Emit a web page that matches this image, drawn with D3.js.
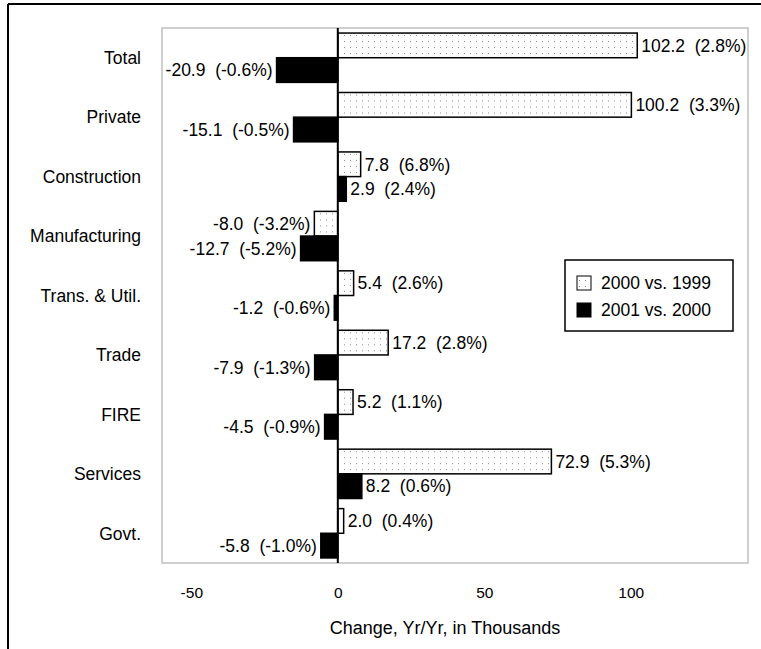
<!DOCTYPE html>
<html>
<head>
<meta charset="utf-8">
<script src="https://cdn.jsdelivr.net/npm/d3@7"></script>
<style>
  body { margin: 0; background: #fff; }
  text { font-family: "Liberation Sans", Arial, sans-serif; fill: #000; }
</style>
</head>
<body>
<div class="chart"></div>
<script>
// data
var categories = ["Total", "Private", "Construction", "Manufacturing", "Trans. & Util.",
                  "Trade", "FIRE", "Services", "Govt."];
var seriesNames = ["2000 vs. 1999", "2001 vs. 2000"];
var change2000 = [102.2, 100.2, 7.8, -8.0, 5.4, 17.2, 5.2, 72.9, 2.0];
var pct2000    = [2.8, 3.3, 6.8, -3.2, 2.6, 2.8, 1.1, 5.3, 0.4];
var change2001 = [-20.9, -15.1, 2.9, -12.7, -1.2, -7.9, -4.5, 8.2, -5.8];
var pct2001    = [-0.6, -0.5, 2.4, -5.2, -0.6, -1.3, -0.9, 0.6, -1.0];
var xTicks = [-50, 0, 50, 100];

var W = 761, H = 649;
var margin = {top: 28, right: 13, bottom: 86, left: 162},
    width = W - margin.left - margin.right,
    height = H - margin.top - margin.bottom;

var svg = d3.select(".chart").append("svg")
    .attr("width", W)
    .attr("height", H);

// dotted fill for the first series
var defs = svg.append("defs");
var pat = defs.append("pattern")
    .attr("id", "dots")
    .attr("patternUnits", "userSpaceOnUse")
    .attr("width", 6).attr("height", 6);
pat.append("rect").attr("width", 6).attr("height", 6).attr("fill", "#fff");
pat.append("rect").attr("x", 2).attr("y", 2).attr("width", 1).attr("height", 1).attr("fill", "#8a8a8a");

// outer frame (only top and left edges are visible)
svg.append("line").attr("x1", 8).attr("x2", W).attr("y1", 4).attr("y2", 4)
    .attr("stroke", "#000").attr("stroke-width", 2);
svg.append("line").attr("x1", 8).attr("x2", 8).attr("y1", 4).attr("y2", H)
    .attr("stroke", "#000").attr("stroke-width", 2);

var g = svg.append("g")
    .attr("transform", "translate(" + margin.left + "," + margin.top + ")");

var x = d3.scaleLinear().domain([-60, 140]).range([0, width]);
var y = d3.scaleBand().domain(categories).range([0, height]).paddingInner(0.17).paddingOuter(0.085);
var ySub = d3.scaleBand().domain([0, 1]).range([0, y.bandwidth()]);

// plot area border
g.append("rect")
    .attr("width", width).attr("height", height)
    .attr("fill", "none").attr("stroke", "#c0c0c0").attr("stroke-width", 1.5);

var rows = categories.map(function(c, i) {
    return {cat: c, vals: [
        {s: 0, v: change2000[i], p: pct2000[i]},
        {s: 1, v: change2001[i], p: pct2001[i]}
    ]};
});

var row = g.selectAll(".row").data(rows).enter().append("g")
    .attr("class", "row")
    .attr("transform", function(d) { return "translate(0," + y(d.cat) + ")"; });

row.selectAll("rect").data(function(d) { return d.vals; }).enter().append("rect")
    .attr("x", function(d) { return x(Math.min(0, d.v)); })
    .attr("y", function(d) { return ySub(d.s); })
    .attr("width", function(d) { return Math.abs(x(d.v) - x(0)); })
    .attr("height", ySub.bandwidth())
    .attr("fill", function(d) { return d.s === 0 ? "url(#dots)" : "#000"; })
    .attr("stroke", "#000").attr("stroke-width", 1.5);

row.selectAll("text").data(function(d) { return d.vals; }).enter().append("text")
    .attr("x", function(d) { return d.v >= 0 ? x(d.v) + 4 : x(d.v) - 4; })
    .attr("y", function(d) { return ySub(d.s) + ySub.bandwidth() / 2; })
    .attr("dy", "0.36em")
    .attr("text-anchor", function(d) { return d.v >= 0 ? "start" : "end"; })
    .style("font-size", "17.5px")
    .style("white-space", "pre")
    .text(function(d) { return d.v.toFixed(1) + "  (" + d.p.toFixed(1) + "%)"; });

// category labels
g.selectAll(".cat").data(categories).enter().append("text")
    .attr("class", "cat")
    .attr("x", -21)
    .attr("y", function(d) { return y(d) + y.bandwidth() / 2; })
    .attr("dy", "0.36em")
    .attr("text-anchor", "end")
    .style("font-size", "17.5px")
    .text(function(d) { return d; });

// zero line
g.append("line")
    .attr("x1", x(0)).attr("x2", x(0)).attr("y1", 0).attr("y2", height)
    .attr("stroke", "#000").attr("stroke-width", 2);

// x axis, labels only
var xAxis = d3.axisBottom(x).tickValues(xTicks).tickSize(0).tickPadding(0)
    .tickFormat(function(d) { return String(d); });
var ax = g.append("g")
    .attr("transform", "translate(0," + (height + 24) + ")")
    .call(xAxis);
ax.select(".domain").remove();
ax.selectAll("text").style("font-size", "15.5px").attr("font-family", null);

g.append("text")
    .attr("x", 283).attr("y", height + 71)
    .attr("text-anchor", "middle")
    .style("font-size", "18px")
    .text("Change, Yr/Yr, in Thousands");

// legend
var lg = svg.append("g").attr("transform", "translate(565,260)");
lg.append("rect").attr("width", 168).attr("height", 71)
    .attr("fill", "#fff").attr("stroke", "#000").attr("stroke-width", 1.5);
seriesNames.forEach(function(n, i) {
    lg.append("rect")
        .attr("x", 12).attr("y", 16 + i * 27)
        .attr("width", 14).attr("height", 14)
        .attr("fill", i === 0 ? "url(#dots)" : "#000")
        .attr("stroke", "#000").attr("stroke-width", 1);
    lg.append("text")
        .attr("x", 36).attr("y", 23 + i * 27)
        .attr("dy", "0.36em")
        .style("font-size", "17.5px")
        .text(n);
});
</script>
</body>
</html>
